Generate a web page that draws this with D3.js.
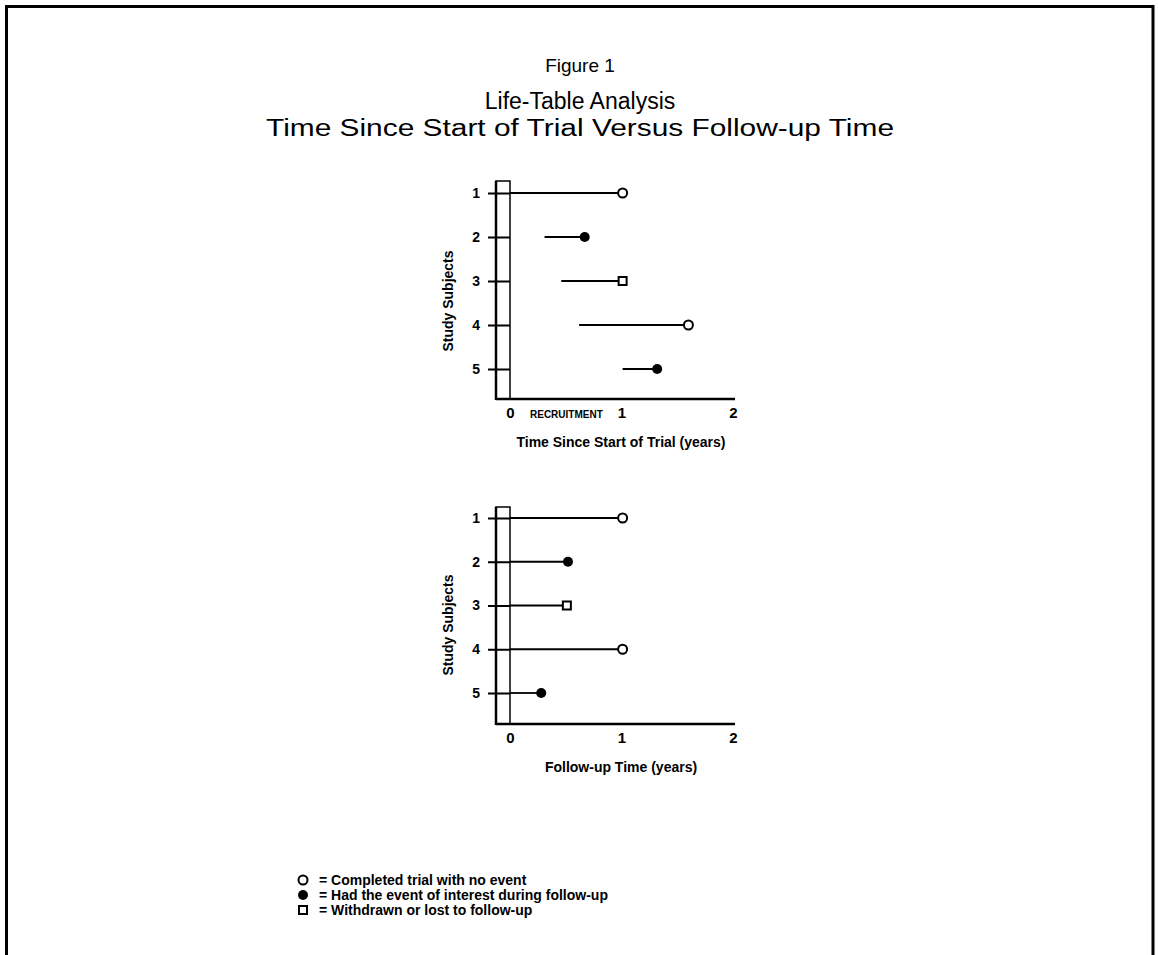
<!DOCTYPE html>
<html>
<head>
<meta charset="utf-8">
<script src="https://cdn.jsdelivr.net/npm/d3@7"></script>
<style>
  html, body { margin: 0; padding: 0; background: #fff; }
  svg { display: block; }
  text { font-family: "Liberation Sans", Arial, Helvetica, sans-serif; fill: #000; }
</style>
</head>
<body>
<svg id="chart" width="1158" height="955"></svg>
<script>
// ---- data ----
const subjects = [1, 2, 3, 4, 5];
const trialStart = [0, 0.31, 0.46, 0.62, 1.01];
const trialEnd = [1.01, 0.67, 1.01, 1.60, 1.32];
const outcome = ["completed", "event", "withdrawn", "completed", "event"];
const followUp = [1.01, 0.52, 0.51, 1.01, 0.28];
const xTicks = [0, 1, 2];
const titleLines = ["Figure 1", "Life-Table Analysis", "Time Since Start of Trial Versus Follow-up Time"];
const legendSymbols = ["completed", "event", "withdrawn"];
const legendLabels = ["= Completed trial with no event", "= Had the event of interest during follow-up", "= Withdrawn or lost to follow-up"];

const svg = d3.select("#chart");

// frame
svg.append("path")
  .attr("d", "M6.5,960 L6.5,6.5 L1153,6.5 L1153,960")
  .attr("fill", "none").attr("stroke", "#000").attr("stroke-width", 3);

// titles
svg.append("text").attr("x", 580).attr("y", 72).attr("text-anchor", "middle")
  .style("font-size", "19px").text(titleLines[0]);
svg.append("text").attr("x", 580).attr("y", 109).attr("text-anchor", "middle")
  .style("font-size", "23px").text(titleLines[1]);
svg.append("text").attr("x", 580).attr("y", 136).attr("text-anchor", "middle")
  .attr("textLength", 628).attr("lengthAdjust", "spacingAndGlyphs")
  .style("font-size", "23px").text(titleLines[2]);

function marker(g, type, cx, cy) {
  if (type === "completed") {
    g.append("circle").attr("cx", cx).attr("cy", cy).attr("r", 4.5)
      .attr("fill", "#fff").attr("stroke", "#000").attr("stroke-width", 2);
  } else if (type === "event") {
    g.append("circle").attr("cx", cx).attr("cy", cy).attr("r", 5)
      .attr("fill", "#000");
  } else {
    g.append("rect").attr("x", cx - 4).attr("y", cy - 4).attr("width", 8).attr("height", 8)
      .attr("fill", "#fff").attr("stroke", "#000").attr("stroke-width", 2);
  }
}

function panel(cfg) {
  const g = svg.append("g");
  const x = d3.scaleLinear().domain([0, 2]).range([510, 733]);
  const y = d3.scaleLinear().domain([1, 5]).range([cfg.yTop, cfg.yBot]);
  const axisLeftX = 496;

  // recruitment box
  g.append("rect").attr("x", axisLeftX).attr("y", cfg.boxTop)
    .attr("width", x(0) - axisLeftX).attr("height", cfg.axisY - cfg.boxTop)
    .attr("fill", "none").attr("stroke", "#000").attr("stroke-width", 1.5);

  // y axis ticks + labels
  const ya = g.append("g").attr("transform", `translate(${x(0)},0)`)
    .call(d3.axisLeft(y).tickValues(subjects).tickSize(22).tickPadding(8).tickFormat(d3.format("d")));
  ya.select(".domain").remove();
  ya.selectAll(".tick line").attr("stroke", "#000").attr("stroke-width", 2);
  ya.selectAll(".tick text").style("font-size", "14px").style("font-weight", "bold")
    .style("font-family", "'Liberation Sans', Arial, sans-serif");

  // x axis labels
  const xa = g.append("g").attr("transform", `translate(0,${cfg.axisY})`)
    .call(d3.axisBottom(x).tickValues(xTicks).tickSize(0).tickPadding(8).tickFormat(d3.format("d")));
  xa.select(".domain").remove();
  xa.selectAll(".tick text").style("font-size", "15px").style("font-weight", "bold")
    .style("font-family", "'Liberation Sans', Arial, sans-serif");

  // axis lines
  g.append("line").attr("x1", axisLeftX).attr("x2", axisLeftX)
    .attr("y1", cfg.boxTop).attr("y2", cfg.axisY + 1)
    .attr("stroke", "#000").attr("stroke-width", 2.5);
  g.append("line").attr("x1", axisLeftX).attr("x2", 735)
    .attr("y1", cfg.axisY).attr("y2", cfg.axisY)
    .attr("stroke", "#000").attr("stroke-width", 2.5);

  // subject lines
  subjects.forEach((s, i) => {
    g.append("line").attr("x1", x(cfg.start[i])).attr("x2", x(cfg.end[i]))
      .attr("y1", y(s)).attr("y2", y(s))
      .attr("stroke", "#000").attr("stroke-width", 1.8);
  });
  subjects.forEach((s, i) => marker(g, outcome[i], x(cfg.end[i]), y(s)));

  // y title
  g.append("text")
    .attr("transform", `translate(453,${cfg.yLabelY}) rotate(-90)`)
    .attr("text-anchor", "middle")
    .style("font-size", "14px").style("font-weight", "bold").text("Study Subjects");

  // x title
  g.append("text").attr("x", 621).attr("y", cfg.axisY + 48).attr("text-anchor", "middle")
    .style("font-size", "14px").style("font-weight", "bold").text(cfg.xTitle);

  if (cfg.recruit) {
    g.append("text").attr("x", 530).attr("y", cfg.axisY + 19)
      .style("font-size", "10px").style("font-weight", "bold").text("RECRUITMENT");
  }
}

panel({ yTop: 193, yBot: 369, boxTop: 181, axisY: 399, yLabelY: 301,
  start: trialStart, end: trialEnd, xTitle: "Time Since Start of Trial (years)", recruit: true });

panel({ yTop: 518, yBot: 693, boxTop: 507, axisY: 724, yLabelY: 625,
  start: subjects.map(() => 0), end: followUp, xTitle: "Follow-up Time (years)", recruit: false });

// legend
const lg = svg.append("g");
legendSymbols.forEach((t, i) => {
  const cy = 880 + i * 15;
  marker(lg, t, 303, cy);
  lg.append("text").attr("x", 319).attr("y", cy + 5)
    .style("font-size", "14px").style("font-weight", "bold").text(legendLabels[i]);
});
</script>
</body>
</html>
